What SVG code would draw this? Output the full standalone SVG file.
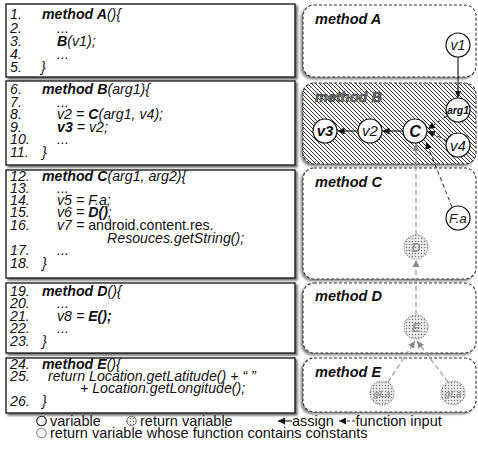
<svg xmlns="http://www.w3.org/2000/svg" width="478" height="450" viewBox="0 0 478 450">
<defs>
<style>
.code{font-family:"Liberation Sans",Arial,sans-serif;font-size:14.2px;font-style:italic;fill:#111}
.b{font-weight:bold}
.up{font-style:normal}
.lbl{font-family:"Liberation Sans",Arial,sans-serif;font-size:14.5px;font-style:italic;font-weight:bold;fill:#111}
.cbox{fill:#fff;stroke:#111;stroke-width:1.3}
.mbox{fill:#fff;stroke:#333;stroke-width:1.1;stroke-dasharray:3 2}
.nd{fill:#fff;stroke:#111;stroke-width:1.2}
.ndt{font-family:"Liberation Sans",Arial,sans-serif;font-style:italic;font-size:14px;text-anchor:middle;fill:#111}
.rv{fill:url(#dots);stroke:#999;stroke-width:1.1;stroke-dasharray:1.5 1}
.rvt{font-family:"Liberation Sans",Arial,sans-serif;font-style:italic;font-weight:bold;text-anchor:middle;fill:#999}
.asg{stroke:#111;stroke-width:1.1;fill:none}
.fin{stroke:#222;stroke-width:1;stroke-dasharray:4 3;fill:none}
.gfin{stroke:#999;stroke-width:1.2;stroke-dasharray:5 3;fill:none}
.leg{font-family:"Liberation Sans",Arial,sans-serif;font-size:14.5px;fill:#111}
</style>
<pattern id="hatch" width="4" height="4" patternUnits="userSpaceOnUse">
<rect width="4" height="4" fill="#fff"/>
<path d="M-1,-1 L5,5 M-1,3 L1,5 M3,-1 L5,1" stroke="#222" stroke-width="0.9"/>
</pattern>
<pattern id="dots" width="3" height="3" patternUnits="userSpaceOnUse">
<rect width="3" height="3" fill="#ececec"/>
<circle cx="1.5" cy="1.5" r="0.75" fill="#7a7a7a"/>
</pattern>
<pattern id="grid" width="7" height="7" patternUnits="userSpaceOnUse" x="1" y="2">
<rect width="7" height="7" fill="#fff"/>
<path d="M0,0 H7 M0,0 V7" stroke="#ccc" stroke-width="0.7" stroke-dasharray="1.5 1"/>
</pattern>
<filter id="shL" x="-5%" y="-10%" width="112%" height="125%">
<feDropShadow dx="2" dy="2" stdDeviation="1.2" flood-color="#444" flood-opacity="0.8"/>
</filter>
<filter id="shR" x="-10%" y="-10%" width="115%" height="125%">
<feDropShadow dx="-2" dy="2" stdDeviation="1.3" flood-color="#555" flood-opacity="0.7"/>
</filter>
<marker id="ab" viewBox="0 0 10 10" refX="10" refY="5" markerWidth="7" markerHeight="7" markerUnits="userSpaceOnUse" orient="auto"><path d="M0,0 L10,5 L0,10 z" fill="#111"/></marker>
<marker id="ag" viewBox="0 0 10 10" refX="10" refY="5" markerWidth="7" markerHeight="7" markerUnits="userSpaceOnUse" orient="auto"><path d="M0,0 L10,5 L0,10 z" fill="#888"/></marker>
</defs>
<rect width="478" height="450" fill="#fff"/>

<!-- code boxes -->
<g id="code-A">
<rect class="cbox" x="6" y="4" width="289" height="73" filter="url(#shL)"/>
<text class="code"><tspan x="10" y="19">1.</tspan><tspan x="42" y="19" class="b">method A</tspan><tspan>(){</tspan></text>
<text class="code"><tspan x="10" y="32.5">2.</tspan><tspan x="57" y="32.5">...</tspan></text>
<text class="code"><tspan x="10" y="46">3.</tspan><tspan x="57" y="46" class="b">B</tspan><tspan>(v1);</tspan></text>
<text class="code"><tspan x="10" y="59">4.</tspan><tspan x="57" y="59">...</tspan></text>
<text class="code"><tspan x="10" y="72">5.</tspan><tspan x="41" y="72">}</tspan></text>
</g>
<g id="code-B">
<rect class="cbox" x="6" y="81" width="289" height="84" filter="url(#shL)"/>
<text class="code"><tspan x="10" y="94">6.</tspan><tspan x="42" y="94" class="b">method B</tspan><tspan>(arg1){</tspan></text>
<text class="code"><tspan x="10" y="106.5">7.</tspan><tspan x="57" y="106.5">...</tspan></text>
<text class="code"><tspan x="10" y="119">8.</tspan><tspan x="57" y="119">v2 = </tspan><tspan class="b">C</tspan><tspan>(arg1, v4);</tspan></text>
<text class="code"><tspan x="10" y="131.5">9.</tspan><tspan x="57" y="131.5" class="b">v3</tspan><tspan> = v2;</tspan></text>
<text class="code"><tspan x="10" y="144">10.</tspan><tspan x="57" y="144">...</tspan></text>
<text class="code"><tspan x="10" y="156.5">11.</tspan><tspan x="42" y="156.5">}</tspan></text>
</g>
<g id="code-C">
<rect class="cbox" x="6" y="170" width="289" height="108" filter="url(#shL)"/>
<text class="code"><tspan x="10" y="181">12.</tspan><tspan x="42" y="181" class="b">method C</tspan><tspan>(arg1, arg2){</tspan></text>
<text class="code"><tspan x="10" y="193">13.</tspan><tspan x="57" y="193">...</tspan></text>
<text class="code"><tspan x="10" y="205">14.</tspan><tspan x="57" y="205">v5 = F.a;</tspan></text>
<text class="code"><tspan x="10" y="217">15.</tspan><tspan x="57" y="217">v6 = </tspan><tspan class="b">D()</tspan><tspan>;</tspan></text>
<text class="code"><tspan x="10" y="229.5">16.</tspan><tspan x="57" y="229.5">v7 = </tspan><tspan class="up">android.content.res.</tspan></text>
<text class="code" x="107" y="242.5">Resouces.getString();</text>
<text class="code"><tspan x="10" y="255">17.</tspan><tspan x="57" y="255">...</tspan></text>
<text class="code"><tspan x="10" y="267.5">18.</tspan><tspan x="42" y="267.5">}</tspan></text>
</g>
<g id="code-D">
<rect class="cbox" x="6" y="283" width="289" height="70" filter="url(#shL)"/>
<text class="code"><tspan x="10" y="296">19.</tspan><tspan x="42" y="296" class="b">method D</tspan><tspan>(){</tspan></text>
<text class="code"><tspan x="10" y="308">20.</tspan><tspan x="57" y="308">...</tspan></text>
<text class="code"><tspan x="10" y="320.5">21.</tspan><tspan x="57" y="320.5">v8 = </tspan><tspan class="b">E();</tspan></text>
<text class="code"><tspan x="10" y="333">22.</tspan><tspan x="57" y="333">...</tspan></text>
<text class="code"><tspan x="10" y="345.5">23.</tspan><tspan x="42" y="345.5">}</tspan></text>
</g>
<g id="code-E">
<rect class="cbox" x="6" y="358" width="289" height="55" filter="url(#shL)"/>
<text class="code"><tspan x="10" y="369">24.</tspan><tspan x="42" y="369" class="b">method E</tspan><tspan>(){</tspan></text>
<text class="code"><tspan x="10" y="381">25.</tspan><tspan x="48" y="381">return Location.getLatitude() + “ ”</tspan></text>
<text class="code" x="80" y="393">+ Location.getLongitude();</text>
<text class="code"><tspan x="10" y="405.5">26.</tspan><tspan x="42" y="405.5">}</tspan></text>
</g>

<!-- method boxes -->
<g id="box-A">
<rect class="mbox" x="303" y="5" width="173" height="72" rx="11" filter="url(#shR)"/>
<text class="lbl" x="315" y="24">method A</text>
</g>
<g id="box-B">
<rect class="mbox" x="303" y="83" width="173" height="81" rx="11" style="fill:url(#hatch)" filter="url(#shR)"/>
<text class="lbl" x="315" y="102" style="fill:#777;stroke:#222;stroke-width:0.5">method B</text>
</g>
<g id="box-C">
<rect class="mbox" x="303" y="168" width="173" height="111" rx="11" filter="url(#shR)"/>
<text class="lbl" x="315" y="187">method C</text>
</g>
<g id="box-D">
<rect class="mbox" x="303" y="283" width="173" height="70" rx="11" filter="url(#shR)"/>
<text class="lbl" x="315" y="301">method D</text>
</g>
<g id="box-E">
<rect class="mbox" x="303" y="358" width="173" height="54" rx="11" filter="url(#shR)"/>
<text class="lbl" x="315" y="377">method E</text>
</g>

<!-- connectors -->
<g id="connectors">
<path class="asg" d="M458,57 L458,97.5" marker-end="url(#ab)"/>
<path class="asg" d="M403,131 L382.5,131" marker-end="url(#ab)"/>
<path class="asg" d="M358,131 L337.5,131" marker-end="url(#ab)"/>
<path class="fin" d="M447,116 L428,129" marker-end="url(#ab)"/>
<path class="fin" d="M447,141 L428,131" marker-end="url(#ab)"/>
<path class="fin" d="M452,207 L426,142" marker-end="url(#ab)"/>
<path class="gfin" d="M416,235 L416,144" marker-end="url(#ag)"/>
<path class="gfin" d="M416,315 L416,260" marker-end="url(#ag)"/>
<path class="gfin" d="M388,382 L415,341" marker-end="url(#ag)"/>
<path class="gfin" d="M448,382 L417,341" marker-end="url(#ag)"/>
</g>

<!-- nodes -->
<g id="node-v1"><circle class="nd" cx="458" cy="45" r="12"/><text class="ndt" x="458" y="50">v1</text></g>
<g id="node-arg1"><circle class="nd" cx="458" cy="110" r="12"/><text class="ndt" x="458" y="114" style="font-size:10.5px;font-weight:bold">arg1</text></g>
<g id="node-v4"><circle class="nd" cx="458" cy="145" r="12"/><text class="ndt" x="458" y="150.5" style="font-size:15px">v4</text></g>
<g id="node-C"><circle class="nd" cx="415" cy="131" r="12" style="fill:url(#grid)"/><text class="ndt" x="415" y="137" style="font-size:16px;font-weight:bold">C</text></g>
<g id="node-v2"><circle class="nd" cx="370" cy="131" r="12"/><text class="ndt" x="370" y="136" style="font-size:15px">v2</text></g>
<g id="node-v3"><circle class="nd" cx="325" cy="131" r="12"/><text class="ndt" x="325" y="136" style="font-size:15px;font-weight:bold">v3</text></g>
<g id="node-Fa"><circle class="nd" cx="458" cy="218" r="12"/><text class="ndt" x="458" y="223" style="font-size:13.5px">F.a</text></g>
<g id="node-D"><circle class="rv" cx="416" cy="247" r="12"/><text class="rvt" x="416" y="252" style="font-size:13px">D</text></g>
<g id="node-E"><circle class="rv" cx="416" cy="327" r="12"/><text class="rvt" x="416" y="332" style="font-size:13px">E</text></g>
<g id="node-gLa1"><circle class="rv" cx="382" cy="393" r="12"/><text class="rvt" x="382" y="396.5" style="font-size:9.5px">gLa</text></g>
<g id="node-gLa2"><circle class="rv" cx="453" cy="393" r="12"/><text class="rvt" x="453" y="396.5" style="font-size:9.5px">gLa</text></g>

<!-- legend -->
<g id="legend">
<circle cx="41.5" cy="421" r="4.8" fill="#fff" stroke="#111" stroke-width="1.1"/>
<text class="leg" x="50" y="426">variable</text>
<circle cx="131.5" cy="421" r="4.8" fill="url(#dots)" stroke="#777" stroke-width="1"/>
<text class="leg" x="140" y="426">return variable</text>
<path class="asg" d="M292,421 L278,421" marker-end="url(#ab)"/>
<text class="leg" x="292" y="426">assign</text>
<path class="fin" d="M355,421 L339,421" marker-end="url(#ab)" style="stroke-dasharray:3 2"/>
<text class="leg" x="355.5" y="426">function input</text>
<circle cx="41.5" cy="433" r="4.8" fill="#fff" stroke="#888" stroke-width="1.1"/>
<text class="leg" x="50" y="438">return variable whose function contains constants</text>
</g>
</svg>
